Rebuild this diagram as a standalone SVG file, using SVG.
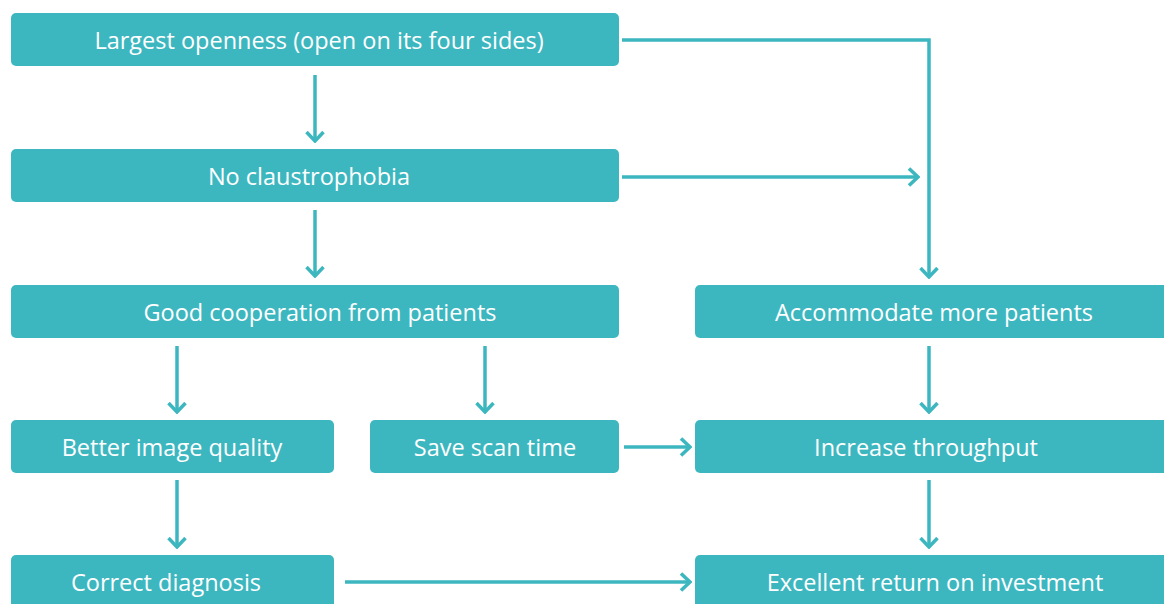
<svg xmlns="http://www.w3.org/2000/svg" width="1164" height="604" viewBox="0 0 1164 604">
<defs>
<style>
.box{fill:#3db7bf;}
.t{fill:#ffffff;font-family:"Open Sans","Noto Sans",sans-serif;font-size:23.5px;text-anchor:middle;dominant-baseline:central;}
.c{fill:none;stroke:#3db7bf;stroke-width:3.5;}
</style>
<marker id="ah" viewBox="0 0 12 20" refX="10" refY="10" markerWidth="12" markerHeight="20" markerUnits="userSpaceOnUse" orient="auto">
<path d="M1,1.5 L10,10 L1,18.5" fill="none" stroke="#3db7bf" stroke-width="3.5"/>
</marker>
</defs>
<rect width="1164" height="604" fill="#ffffff"/>
<g id="connectors">
<path class="c" d="M315,75 V141" marker-end="url(#ah)"/>
<path class="c" d="M622,40 H929 V277" marker-end="url(#ah)"/>
<path class="c" d="M622,177 H918" marker-end="url(#ah)"/>
<path class="c" d="M315,210 V276" marker-end="url(#ah)"/>
<path class="c" d="M177,346 V412" marker-end="url(#ah)"/>
<path class="c" d="M485,346 V412" marker-end="url(#ah)"/>
<path class="c" d="M929,346 V412" marker-end="url(#ah)"/>
<path class="c" d="M624,447 H690" marker-end="url(#ah)"/>
<path class="c" d="M177,480 V547" marker-end="url(#ah)"/>
<path class="c" d="M929,480 V547" marker-end="url(#ah)"/>
<path class="c" d="M345,582 H690" marker-end="url(#ah)"/>
</g>
<g id="n1"><rect class="box" x="11" y="13" width="608" height="53" rx="5"/><text class="t" x="319" y="40">Largest openness (open on its four sides)</text></g>
<g id="n2"><rect class="box" x="11" y="149" width="608" height="53" rx="5"/><text class="t" x="309" y="176">No claustrophobia</text></g>
<g id="n3"><rect class="box" x="11" y="285" width="608" height="53" rx="5"/><text class="t" x="320" y="312">Good cooperation from patients</text></g>
<g id="n4"><rect class="box" x="695" y="285" width="475" height="53" rx="5"/><text class="t" x="934" y="312">Accommodate more patients</text></g>
<g id="n5"><rect class="box" x="11" y="420" width="323" height="53" rx="5"/><text class="t" x="172" y="447">Better image quality</text></g>
<g id="n6"><rect class="box" x="370" y="420" width="249" height="53" rx="5"/><text class="t" x="495" y="447">Save scan time</text></g>
<g id="n7"><rect class="box" x="695" y="420" width="475" height="53" rx="5"/><text class="t" x="926" y="447">Increase throughput</text></g>
<g id="n8"><rect class="box" x="11" y="555" width="323" height="55" rx="5"/><text class="t" x="166" y="582">Correct diagnosis</text></g>
<g id="n9"><rect class="box" x="695" y="555" width="475" height="55" rx="5"/><text class="t" x="935" y="582">Excellent return on investment</text></g>
</svg>
